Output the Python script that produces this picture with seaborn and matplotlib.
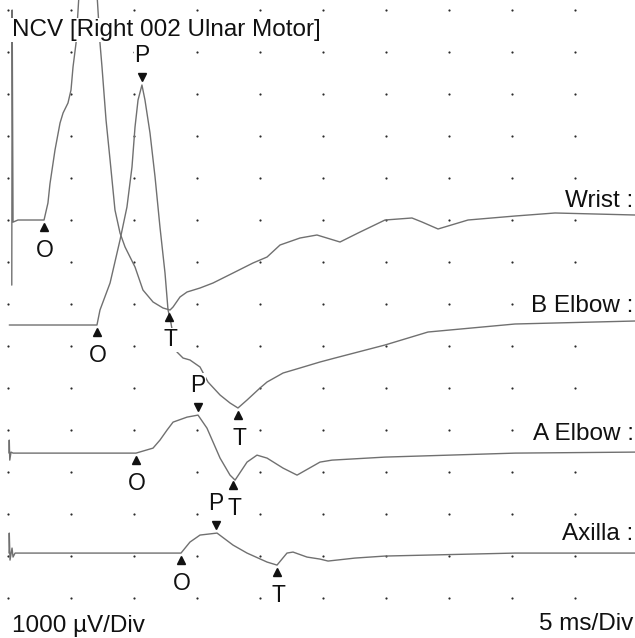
import numpy as np
import seaborn as sns
import matplotlib.pyplot as plt
from matplotlib.transforms import offset_copy

# Motor NCV traces: time in ms, amplitude in uV relative to each trace's baseline
wrist_t = [0.30, 0.33, 0.40, 0.79, 2.86, 3.17, 3.33, 3.73, 4.13, 4.37, 4.76, 5.00, 5.16, 5.40,
           5.56, 6.35, 7.14, 7.30, 7.46, 7.78, 8.10, 8.49, 8.89, 9.29, 10.08, 10.71, 11.51, 12.30,
           12.86, 13.10, 13.65, 14.21, 15.24, 16.27, 17.86, 19.44, 20.56, 21.59, 23.17, 24.52,
           26.35, 27.78, 29.92, 32.06, 32.86, 34.13, 36.51, 40.24, 43.41, 49.76]
wrist_uv = [-1550, 5000, -50, 0, 0, 405, 860, 1667, 2310, 2548, 2786, 3095, 3643, 4214,
            5000, 8900, 5000, 4214, 3643, 2381, 1429, 238, -310, -643, -1119, -1667, -1952, -2095,
            -2143, -2071, -1833, -1714, -1619, -1500, -1262, -1024, -881, -595, -429, -357,
            -524, -310, 0, 48, -48, -214, 0, 95, 167, 119]

belbow_t = [0.10, 7.06, 7.30, 8.10, 8.89, 9.44, 9.84, 10.08, 10.32, 10.63, 10.87, 11.27, 11.67,
            12.06, 12.46, 12.70, 12.86, 13.10, 13.41, 13.89, 14.44, 15.24, 15.87, 16.83, 17.62,
            18.25, 18.97, 20.00, 20.56, 21.83, 23.17, 24.76, 25.95, 29.92, 33.33, 40.24, 49.76]
belbow_uv = [0, 0, 357, 1000, 2024, 2810, 3762, 4714, 5357, 5714, 5357, 4571, 3524,
             2333, 1238, 357, 167, -238, -643, -786, -833, -1000, -1357, -1667, -1857,
             -1976, -1786, -1500, -1357, -1143, -1024, -881, -786, -476, -167, 24, 95]

aelbow_t = [0.08, 0.10, 0.14, 0.24, 0.40, 10.16, 11.51, 12.06, 12.62, 13.10, 14.21, 15.08, 15.79,
            16.83, 17.62, 18.02, 18.97, 19.76, 20.56, 21.83, 22.94, 24.76, 25.71, 29.92, 40.24, 49.76]
aelbow_uv = [0, 310, -167, 24, 0, 0, 119, 310, 548, 738, 857, 905, 595,
             -119, -524, -643, -214, -48, -119, -357, -524, -214, -167, -95, 0, 24]

axilla_t = [0.08, 0.10, 0.16, 0.32, 0.40, 0.56, 13.73, 14.44, 15.24, 16.59, 17.86, 18.97, 20.56,
            21.35, 22.14, 22.62, 23.73, 24.76, 25.40, 27.54, 29.92, 40.24, 49.76]
axilla_uv = [0, 476, -167, 119, -95, 0, 0, 262, 429, 476, 190, 0, -214,
             -286, 0, 24, -95, -143, -190, -119, -71, 0, 0]

site_names = ["Wrist :", "B Elbow :", "A Elbow :", "Axilla :"]
site_levels = [-5000, -7500, -10550, -12930]   # baseline position on the screen, uV
# cursor markers (ms): onset O, peak P, trough T
onset_ms = [2.86, 7.06, 10.16, 13.73]
peak_ms = [None, 10.63, 15.08, 16.51]
trough_ms = [12.80, 18.25, 17.86, 21.35]

traces = [(wrist_t, wrist_uv), (belbow_t, belbow_uv), (aelbow_t, aelbow_uv), (axilla_t, axilla_uv)]

sns.set_style("white")
plt.rcParams['font.family'] = ['Liberation Sans', 'DejaVu Sans']

fig = plt.figure(figsize=(6.35, 6.38), dpi=100)
ax = fig.add_axes([0, 0, 1, 1])
ax.set_xlim(-0.635, 49.76)
ax.set_ylim(-14952, 238)
ax.axis("off")

# dotted division grid, 5 ms x 1000 uV
gx, gy = np.meshgrid(np.arange(0, 50, 5), np.arange(0, -15000, -1000))
ax.scatter(gx.ravel(), gy.ravel(), s=2.5, color="#2a2a2a", linewidths=0, zorder=1)

line_col = "#707070"
txt_col = "#111111"
white_box = dict(fc="white", ec="none", pad=0.3)
below = offset_copy(ax.transData, fig=fig, x=0, y=-7, units="dots")
above = offset_copy(ax.transData, fig=fig, x=0, y=8, units="dots")
lbl_kw = dict(textcoords="offset pixels", ha="center", va="center", fontsize=16.5,
              color=txt_col, zorder=4, bbox=white_box)

for (t, uv), name, lev, o, p, tr in zip(traces, site_names, site_levels, onset_ms, peak_ms, trough_ms):
    y = np.array(uv) + lev
    sns.lineplot(x=t, y=y, ax=ax, sort=False, estimator=None, color=line_col, lw=1.0, zorder=2)
    for ms, letter in [(o, "O"), (tr, "T")]:
        yv = np.interp(ms, t, y)
        ax.plot([ms], [yv], marker="^", ms=5.5, color="#111111", transform=below, zorder=5)
        ax.annotate(letter, xy=(ms, yv), xytext=(1, -30), **lbl_kw)
    if p is not None:
        yv = np.interp(p, t, y)
        ax.plot([p], [yv], marker="v", ms=5.5, color="#111111", transform=above, zorder=5)
        ax.annotate("P", xy=(p, yv), xytext=(0, 30), **lbl_kw)
    ax.annotate(name, xy=(49.65, lev), xytext=(0, 19), textcoords="offset pixels",
                ha="right", va="center", fontsize=17.5, color=txt_col, zorder=4, bbox=white_box)

fig.text(12 / 635, 1 - 30 / 638, "NCV [Right 002 Ulnar Motor]", ha="left", va="center",
         fontsize=17.5, color=txt_col, zorder=6,
         bbox=dict(fc="white", ec="none", pad=0.5))
fig.text(12 / 635, 1 - 626 / 638, "1000 µV/Div", ha="left", va="center", fontsize=17.5, color=txt_col)
fig.text(633 / 635, 1 - 624 / 638, "5 ms/Div", ha="right", va="center", fontsize=17.5, color=txt_col)

fig.savefig("out.png", dpi=100, facecolor="white")
